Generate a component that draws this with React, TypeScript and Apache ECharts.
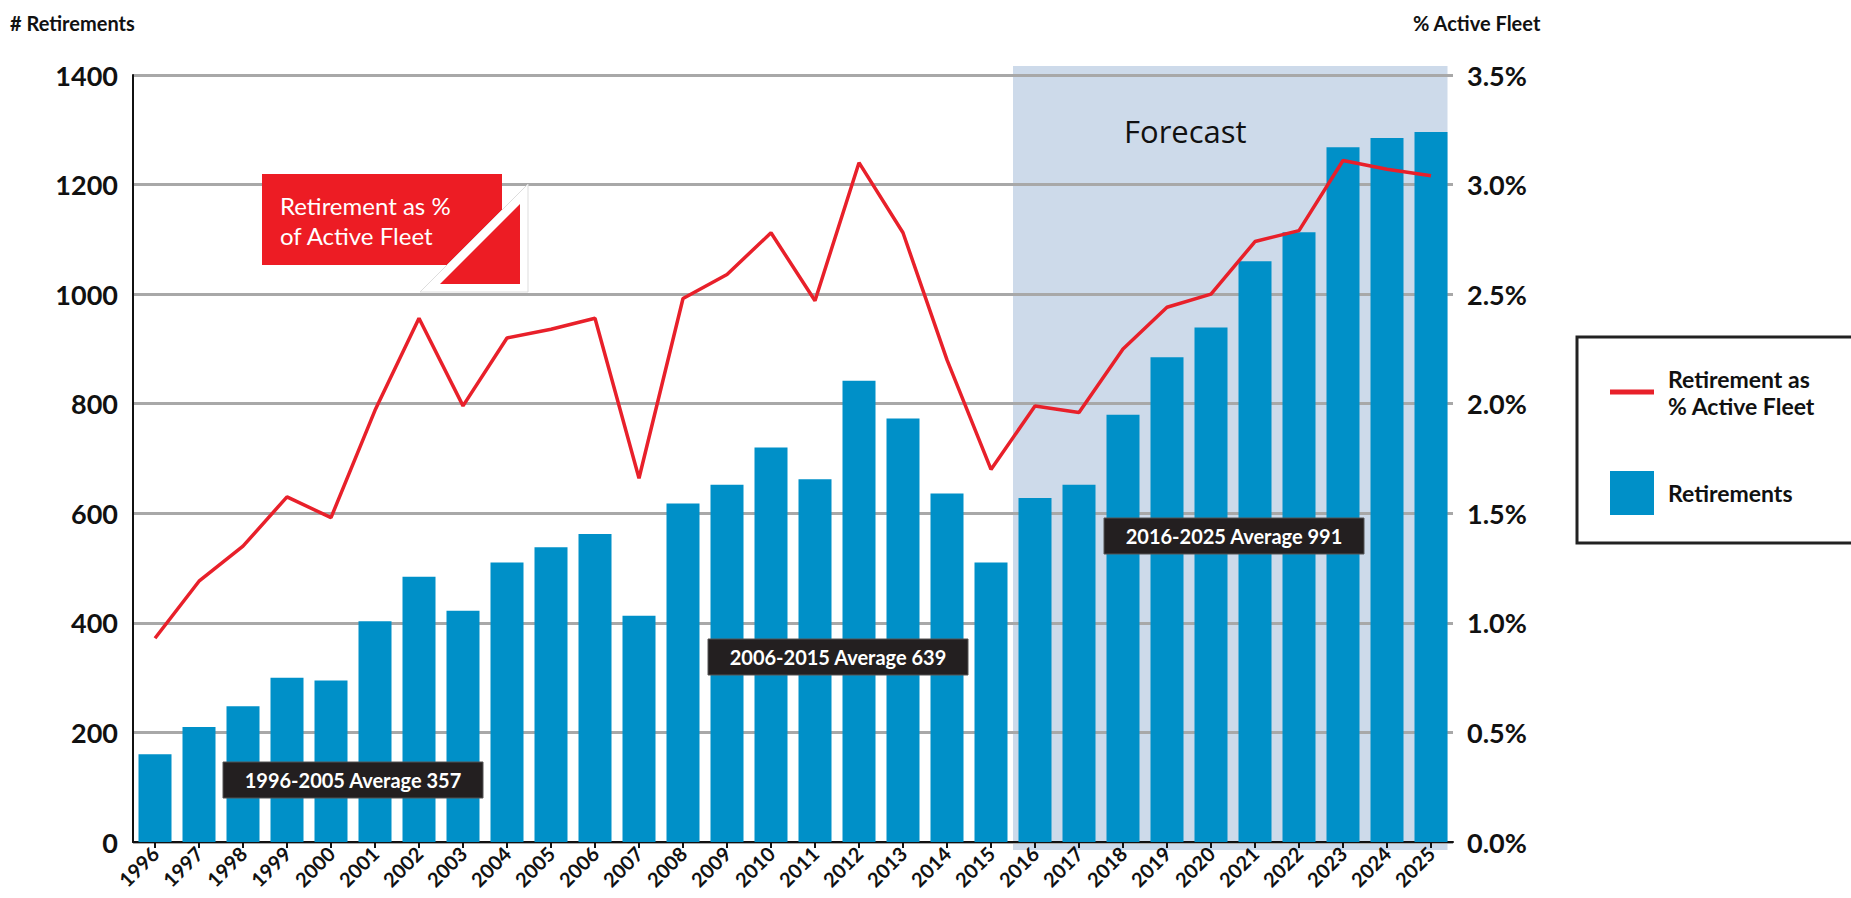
import React, { useEffect, useRef } from 'react';
import * as echarts from 'echarts';

const years: string[] = [
  '1996', '1997', '1998', '1999', '2000', '2001', '2002', '2003', '2004', '2005',
  '2006', '2007', '2008', '2009', '2010', '2011', '2012', '2013', '2014', '2015',
  '2016', '2017', '2018', '2019', '2020', '2021', '2022', '2023', '2024', '2025',
];

const retirements: number[] = [
  160, 210, 248, 300, 295, 403, 484, 422, 510, 538,
  562, 413, 618, 652, 720, 662, 842, 773, 636, 510,
  628, 652, 780, 885, 939, 1060, 1113, 1268, 1285, 1296,
];

const pctActiveFleet: number[] = [
  0.93, 1.19, 1.35, 1.575, 1.48, 1.97, 2.39, 1.99, 2.3, 2.34,
  2.39, 1.66, 2.48, 2.59, 2.78, 2.47, 3.1, 2.78, 2.2, 1.7,
  1.99, 1.96, 2.25, 2.44, 2.5, 2.74, 2.79, 3.11, 3.07, 3.04,
];

const averageLabels: string[] = [
  '1996-2005 Average 357',
  '2006-2015 Average 639',
  '2016-2025 Average 991',
];

const FONT = 'Lato, "Open Sans", sans-serif';
const BLUE = '#0090C8';
const RED = '#E8202A';

export default function App() {
  const ref = useRef<HTMLDivElement>(null);

  useEffect(() => {
    document.body.style.margin = '0';
    const chart = echarts.init(ref.current!, null, { renderer: 'svg' });
    chart.setOption({
      animation: false,
      grid: { left: 133, right: 398, top: 75, bottom: 56, containLabel: false },
      legend: {
        orient: 'vertical',
        left: 1610,
        top: 365,
        padding: 0,
        itemWidth: 44,
        itemHeight: 44,
        itemGap: 52,
        selectedMode: false,
        formatter: (name: string) =>
          name === 'Retirement as % Active Fleet' ? 'Retirement as\n% Active Fleet' : name,
        textStyle: {
          fontFamily: FONT,
          fontSize: 23,
          fontWeight: 'bold',
          color: '#111',
          lineHeight: 27,
          padding: [0, 0, 0, 9],
        },
        data: [
          { name: 'Retirement as % Active Fleet', icon: 'path://M0 0H44V5H0Z' },
          { name: 'Retirements', icon: 'rect' },
        ],
      },
      xAxis: {
        type: 'category',
        data: years,
        axisLine: { show: true, lineStyle: { color: '#111', width: 2 } },
        axisTick: { show: true, alignWithLabel: true, length: 6, lineStyle: { color: '#111', width: 2 } },
        axisLabel: {
          rotate: 45,
          margin: 8,
          fontFamily: FONT,
          fontWeight: 'bold',
          fontSize: 20,
          color: '#111',
        },
        splitLine: { show: false },
      },
      yAxis: [
        {
          type: 'value',
          min: 0,
          max: 1400,
          interval: 200,
          axisLine: { show: true, lineStyle: { color: '#111', width: 2 } },
          axisTick: { show: false },
          axisLabel: {
            margin: 15,
            fontFamily: FONT,
            fontSize: 27,
            fontWeight: 'bold',
            color: '#111',
            formatter: (v: number) => String(v),
          },
          splitLine: { show: true, lineStyle: { color: '#a8a8a8', width: 3 } },
        },
        {
          type: 'value',
          min: 0,
          max: 3.5,
          interval: 0.5,
          position: 'right',
          axisLine: { show: false },
          axisTick: { show: false },
          axisLabel: {
            margin: 14,
            fontFamily: FONT,
            fontSize: 27,
            fontWeight: 'bold',
            color: '#111',
            formatter: (v: number) => v.toFixed(1) + '%',
          },
          splitLine: { show: false },
        },
      ],
      series: [
        {
          name: 'Retirements',
          type: 'bar',
          data: retirements,
          barWidth: '75%',
          itemStyle: { color: BLUE },
          z: 3,
        },
        {
          name: 'Retirement as % Active Fleet',
          type: 'line',
          yAxisIndex: 1,
          data: pctActiveFleet,
          showSymbol: false,
          symbol: 'none',
          lineStyle: { color: RED, width: 3.5 },
          itemStyle: { color: RED },
          z: 5,
        },
      ],
    });

    const cx = (i: number) => chart.convertToPixel({ xAxisIndex: 0 }, i) as number;
    const band = cx(1) - cx(0);
    const barW = band * 0.75;
    const shadeX0 = cx(20) - band / 2;
    const shadeX1 = cx(29) + barW / 2;
    const yTop = (chart.convertToPixel({ yAxisIndex: 0 }, 1400) as number) - 9;
    const yBot = (chart.convertToPixel({ yAxisIndex: 0 }, 0) as number) + 8;

    const darkBox = (cxp: number, cyp: number, text: string) => ({
      type: 'group',
      z: 100,
      children: [
        {
          type: 'rect',
          z: 100,
          shape: { x: cxp - 130, y: cyp - 18, width: 260, height: 36 },
          style: { fill: '#231F20', stroke: '#555', lineWidth: 1 },
        },
        {
          type: 'text',
          z: 101,
          x: cxp,
          y: cyp,
          style: {
            text,
            fill: '#ffffff',
            font: `bold 20px ${FONT}`,
            align: 'center',
            verticalAlign: 'middle',
          },
        },
      ],
    });

    chart.setOption({
      graphic: [
        {
          type: 'rect',
          z: -10,
          silent: true,
          shape: { x: shadeX0, y: yTop, width: shadeX1 - shadeX0, height: yBot - yTop },
          style: { fill: '#CDDAEA' },
        },
        {
          type: 'text',
          z: 100,
          x: 1124,
          y: 131,
          style: {
            text: 'Forecast',
            fill: '#111',
            font: `31px "Open Sans", sans-serif`,
            verticalAlign: 'middle',
          },
        },
        {
          type: 'text',
          z: 100,
          x: 10,
          y: 23,
          style: { text: '# Retirements', fill: '#111', font: `bold 20px ${FONT}`, verticalAlign: 'middle' },
        },
        {
          type: 'text',
          z: 100,
          x: 1413,
          y: 23,
          style: { text: '% Active Fleet', fill: '#111', font: `bold 20px ${FONT}`, verticalAlign: 'middle' },
        },
        {
          type: 'rect',
          z: 100,
          shape: { x: 262, y: 174, width: 240, height: 91 },
          style: { fill: '#ED1C24' },
        },
        {
          type: 'polygon',
          z: 101,
          shape: { points: [[420, 292], [528, 184], [528, 292]] },
          style: { fill: '#ffffff', stroke: '#dddddd', lineWidth: 1 },
        },
        {
          type: 'polygon',
          z: 102,
          shape: { points: [[440, 284], [520, 204], [520, 284]] },
          style: { fill: '#ED1C24' },
        },
        {
          type: 'text',
          z: 103,
          x: 280,
          y: 205,
          style: { text: 'Retirement as %', fill: '#ffffff', font: `24px ${FONT}`, verticalAlign: 'middle' },
        },
        {
          type: 'text',
          z: 103,
          x: 280,
          y: 235,
          style: { text: 'of Active Fleet', fill: '#ffffff', font: `24px ${FONT}`, verticalAlign: 'middle' },
        },
        darkBox(353, 780, averageLabels[0]),
        darkBox(838, 657, averageLabels[1]),
        darkBox(1234, 536, averageLabels[2]),
        {
          type: 'rect',
          z: -5,
          shape: { x: 1577, y: 337, width: 320, height: 206 },
          style: { fill: '#ffffff', stroke: '#222222', lineWidth: 3 },
        },
      ],
    });

    return () => chart.dispose();
  }, []);

  return <div ref={ref} style={{ width: 1851, height: 898 }} />;
}
